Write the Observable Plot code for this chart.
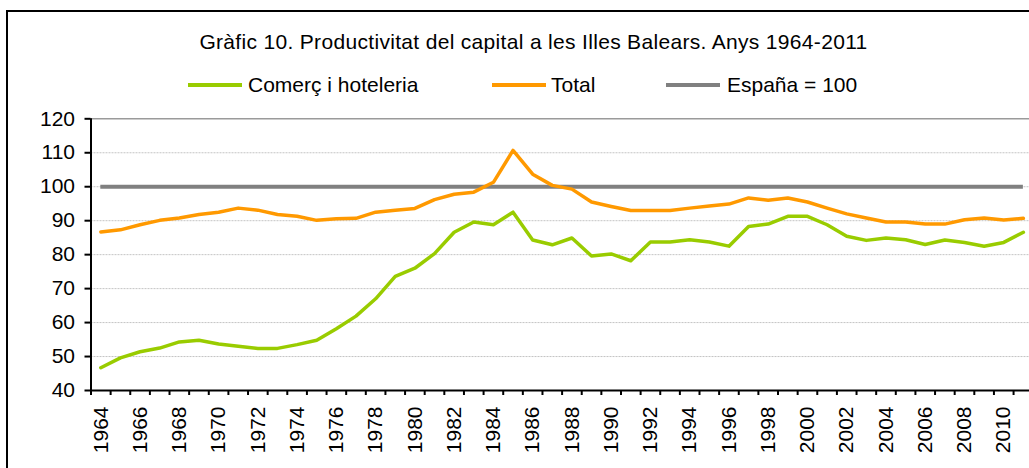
<!DOCTYPE html>
<html>
<head>
<meta charset="utf-8">
<script src="https://cdn.jsdelivr.net/npm/d3@7"></script>
<script src="https://cdn.jsdelivr.net/npm/@observablehq/plot@0.6"></script>
<style>
  html, body { margin: 0; padding: 0; background: #fff; overflow: hidden; }
  #wrap { position: relative; width: 1029px; height: 468px; overflow: hidden; font-family: "Liberation Sans", Arial, sans-serif; color: #000; }
  #frame { position: absolute; left: 6px; top: 10px; width: 1100px; height: 600px; border: 2px solid #000; box-sizing: border-box; }
  #title { position: absolute; left: 0; width: 1067px; top: 30px; text-align: center; font-size: 21px; letter-spacing: 0.32px; white-space: nowrap; }
  .lg { position: absolute; top: 73px; font-size: 21px; white-space: nowrap; line-height: 24px; }
  .sw { position: absolute; height: 4px; top: 83px; }
  #chart { position: absolute; left: 0; top: 0; }
</style>
</head>
<body>
<div id="wrap">
  <div id="frame"></div>
  <div id="title"></div>
  <div id="legend"></div>
  <div id="chart"></div>
</div>
<script>
const titleText = "Gràfic 10. Productivitat del capital a les Illes Balears. Anys 1964-2011";
const seriesNames = ["Comerç i hoteleria", "Total", "España = 100"];
const seriesColors = ["#99CC00", "#FF9900", "#808080"];

const years = d3.range(1964, 2012);
const comerc = [46.7, 49.6, 51.4, 52.5, 54.3, 54.8, 53.7, 53.0, 52.4, 52.4, 53.5, 54.8,
  58.2, 61.9, 67.0, 73.6, 76.0,
  80.3, 86.6, 89.6, 88.8, 92.5, 84.3, 82.9, 84.9, 79.6, 80.2, 78.2,
  83.7, 83.7, 84.4, 83.7, 82.5,
  88.3, 89.0, 91.3, 91.3, 88.8, 85.4, 84.2, 84.9, 84.4, 83.0, 84.3, 83.6, 82.5, 83.6, 86.6];
const total = [86.7, 87.3, 88.8, 90.1, 90.8, 91.8, 92.5, 93.7, 93.1, 91.8, 91.3, 90.1,
  90.6, 90.7, 92.5, 93.1, 93.6,
  96.2, 97.8, 98.4, 101.3, 110.7, 103.7, 100.4, 99.3, 95.5, 94.2, 93.0,
  93.0, 93.0, 93.7, 94.3, 94.9,
  96.7, 96.0, 96.7, 95.5, 93.7, 92.0, 90.8, 89.6, 89.6, 89.0, 89.0, 90.3, 90.8, 90.2, 90.7];
const spainRef = 100;
const yTicks = [40, 50, 60, 70, 80, 90, 100, 110, 120];
const xLabelYears = years.filter(y => y % 2 === 0);

// title & legend
document.getElementById("title").textContent = titleText;
const legend = document.getElementById("legend");
const legendPos = [[188, 248], [492, 551], [666, 727]];
seriesNames.forEach((name, i) => {
  const sw = document.createElement("div");
  sw.className = "sw";
  sw.style.left = legendPos[i][0] + "px";
  sw.style.width = "54px";
  sw.style.background = seriesColors[i];
  legend.appendChild(sw);
  const t = document.createElement("div");
  t.className = "lg";
  t.style.left = legendPos[i][1] + "px";
  t.textContent = name;
  legend.appendChild(t);
});

const rows = (vals) => years.map((y, i) => ({year: y, value: vals[i]}));
const xDomain = [years[0] - 0.5, years[years.length - 1] + 0.5];
const boundaries = years.map(y => y - 0.5).concat([xDomain[1]]);

const chart = Plot.plot({
  width: 1029,
  height: 468,
  marginTop: 118.3,
  marginBottom: 78,
  marginLeft: 90.5,
  marginRight: 0,
  style: {fontFamily: "'Liberation Sans', Arial, sans-serif", fontSize: "21px", background: "transparent", overflow: "visible", maxWidth: "none"},
  x: {domain: xDomain, range: [90.5, 1032.7]},
  y: {domain: [40, 120]},
  marks: [
    Plot.ruleY(yTicks.filter(v => v > 40 && v < 120), {stroke: "#c4c4c4", strokeWidth: 1, strokeDasharray: "2,1"}),
    Plot.ruleY([yTicks[yTicks.length - 1]], {stroke: "#9a9a9a", strokeWidth: 1.5}),
    Plot.ruleY([spainRef], {x1: years[0], x2: years[years.length - 1], stroke: seriesColors[2], strokeWidth: 4}),
    Plot.lineY(rows(total), {x: "year", y: "value", stroke: seriesColors[1], strokeWidth: 3.5}),
    Plot.lineY(rows(comerc), {x: "year", y: "value", stroke: seriesColors[0], strokeWidth: 3.5}),
    Plot.ruleX([xDomain[0]], {stroke: "#000", strokeWidth: 2}),
    Plot.ruleY([yTicks[0]], {stroke: "#000", strokeWidth: 2}),
    Plot.axisY({ticks: yTicks, tickSize: 6, tickPadding: 10, fontSize: 21, label: null, strokeWidth: 2}),
    Plot.axisX({ticks: boundaries, tickSize: 5, tickFormat: () => "", label: null, strokeWidth: 2}),
    Plot.axisX({ticks: xLabelYears, tickSize: 0, tickPadding: 16, tickRotate: -90, tickFormat: d => String(d), fontSize: 21, label: null})
  ]
});
document.getElementById("chart").appendChild(chart);
</script>
</body>
</html>
